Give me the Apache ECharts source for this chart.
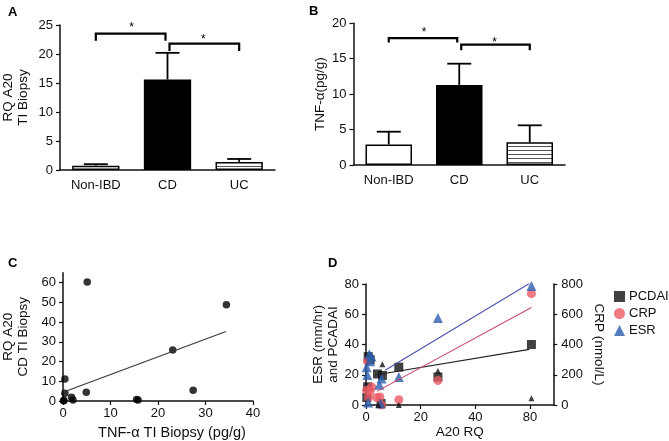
<!DOCTYPE html>
<html>
<head>
<meta charset="utf-8">
<script src="https://cdn.jsdelivr.net/npm/echarts@6/dist/echarts.min.js"></script>
<style>
html,body{margin:0;padding:0;background:#fff;}
#chart{width:669px;height:441px;}
</style>
</head>
<body>
<div id="chart"></div>
<script>
// ---------- DATA ----------
const groups = ['Non-IBD', 'CD', 'UC'];
// Panel A: RQ A20 TI Biopsy
const a20Mean = [0.75, 15.6, 1.4];
const a20Upper = [1.0, 20.2, 1.9];
// Panel B: TNF-α (pg/g)
const tnfMean = [2.9, 11.3, 3.2];
const tnfUpper = [4.7, 14.3, 5.6];
// significance brackets: [fromGroup, toGroup, barLevel, tickEnd, starLevel]
const bracketsA = [[0, 1, 23.5, 22.3, 25.0], [1, 2, 21.8, 20.5, 22.9]];
const bracketsB = [[0, 1, 17.9, 17.3, 19.1], [1, 2, 17.0, 16.2, 17.7]];

// Panel C: TNF-α TI Biopsy vs RQ A20 CD TI Biopsy
const tnfBiopsy = [5.1, 34.4, 23.1, 27.4, 4.9, 0.4, 0.4, 0.2, 1.8, 2.1, 15.5, 15.8, 0.1];
const rqBiopsy  = [60.3, 48.8, 25.8, 5.5, 4.4, 11.2, 3.9, 0.2, 1.9, 0.5, 0.8, 0.5, 0.1];
const fitCX = [0, 34.3];
const fitCY = [4.4, 35.2];
const cYTicks = [0, 10, 20, 30, 40, 50, 60];

// Panel D: A20 RQ vs PCDAI / CRP / ESR
const pcdaiX = [81, 12, 26.3, 4.2, 6, 0.8, 0.3, 0.6, 5.5, 1.5];
const pcdaiY = [40, 25, 18.5, 20.5, 19.5, 32, 5, 12, 1, 30];
const pcdaiOtherX = [6, 26.3, 81, 12, 4.5];
const pcdaiOtherY = [27, 22.5, 4.5, 0, 0];
const crpX = [81, 26.3, 0.5, 12, 5.7, 5.1, 1.5, 0.9, 2.1, 0.2, 3.9];
const crpY = [736, 162, 290, 35, 0, 53, 91, 50, 119, 98, 49];
const esrX = [81, 26.3, 12, 1.2, 2, 0.2, 0.5, 4.9, 5.7, 5.3, 0.8, 1.5];
const esrY = [78.7, 57.5, 18.5, 33.5, 32, 25, 19.8, 13.4, 17.6, 1, 1.7, 29];
const fitPcdaiX = [3.3, 79.5], fitPcdaiY = [19.8, 36.8];
const fitCrpX = [4, 81], fitCrpY = [90, 645];
const fitEsrX = [7, 79.5], fitEsrY = [23, 80.3];
const dTicks = [0, 20, 40, 80];

// ---------- HELPERS ----------
const FONT = 'Liberation Sans, Arial, Helvetica, sans-serif';
// broken x axis in panel D: 0-40 linear, 40-80 compressed by half
function tx(v) { return v <= 40 ? v : 40 + (v - 40) / 2; }
function untx(v) { return v <= 40 ? v : 40 + (v - 40) * 2; }
const zip = (xs, ys, f) => xs.map((x, i) => [f ? f(x) : x, ys[i]]);

function stripe() {
  const c = document.createElement('canvas');
  c.width = 8; c.height = 4;
  const g = c.getContext('2d');
  g.fillStyle = '#fff'; g.fillRect(0, 0, 8, 4);
  g.fillStyle = '#555'; g.fillRect(0, 2, 8, 1);
  return c;
}
const stripePattern = { image: stripe(), repeat: 'repeat' };

const axisLine = { lineStyle: { color: '#111', width: 1.5 } };
const axisTick = { length: 4, lineStyle: { color: '#111', width: 1.2 } };
const lbl = (m) => ({ color: '#111', fontSize: 13, fontFamily: FONT, margin: m });
const nameStyle = (s) => ({ color: '#111', fontSize: s || 13, fontFamily: FONT, lineHeight: 15 });

function barData(means) {
  return means.map((v, i) => ({
    value: v,
    itemStyle: i === 1 ? { color: '#000', borderColor: '#000', borderWidth: 1.5 }
      : i === 2 ? { color: stripePattern, borderColor: '#000', borderWidth: 1.5 }
      : { color: '#fff', borderColor: '#000', borderWidth: 1.5 }
  }));
}
function errSeries(gi, means, uppers) {
  return {
    type: 'custom', xAxisIndex: gi, yAxisIndex: gi, z: 5,
    encode: { x: 0, y: [1, 2] },
    data: means.map((m, i) => [i, m, uppers[i]]),
    renderItem(params, api) {
      const p = api.coord([api.value(0), api.value(1)]);
      const t = api.coord([api.value(0), api.value(2)]);
      return { type: 'group', children: [
        { type: 'line', shape: { x1: p[0], y1: p[1], x2: t[0], y2: t[1] }, style: { stroke: '#000', lineWidth: 1.8 } },
        { type: 'line', shape: { x1: t[0] - 12, y1: t[1], x2: t[0] + 12, y2: t[1] }, style: { stroke: '#000', lineWidth: 1.8 } }
      ]};
    }
  };
}
function bracketSeries(gi, br) {
  return {
    type: 'custom', xAxisIndex: gi, yAxisIndex: gi, z: 6,
    encode: { x: [0, 1], y: [2, 3, 4] },
    data: br,
    renderItem(params, api) {
      const i0 = api.value(0), i1 = api.value(1);
      const a = api.coord([i0, api.value(2)]);
      const b = api.coord([i1, api.value(2)]);
      const a2 = api.coord([i0, api.value(3)]);
      const b2 = api.coord([i1, api.value(3)]);
      const s = api.coord([i0, api.value(4)]);
      const dl = i0 > 0 ? 2 : 0, dr = i1 < 2 ? -2 : 0;
      return { type: 'group', children: [
        { type: 'polyline', shape: { points: [[a2[0] + dl, a2[1]], [a[0] + dl, a[1]], [b[0] + dr, b[1]], [b2[0] + dr, b2[1]]] },
          style: { stroke: '#000', lineWidth: 2.2, fill: null } },
        { type: 'text', x: (a[0] + b[0]) / 2, y: s[1] + 3,
          style: { text: '*', fontSize: 12, fontFamily: FONT, fill: '#000', align: 'center', verticalAlign: 'middle' } }
      ]};
    }
  };
}

const option = {
  backgroundColor: '#fff',
  animation: false,
  title: [
    { text: 'A', left: 3, top: 1, textStyle: { fontSize: 13, fontWeight: 'bold', fontFamily: FONT, color: '#000' } },
    { text: 'B', left: 304, top: 0, textStyle: { fontSize: 13, fontWeight: 'bold', fontFamily: FONT, color: '#000' } },
    { text: 'C', left: 3, top: 252, textStyle: { fontSize: 13, fontWeight: 'bold', fontFamily: FONT, color: '#000' } },
    { text: 'D', left: 323, top: 252, textStyle: { fontSize: 13, fontWeight: 'bold', fontFamily: FONT, color: '#000' } }
  ],
  legend: {
    data: [
      { name: 'PCDAI', icon: 'rect' },
      { name: 'CRP', icon: 'circle' },
      { name: 'ESR', icon: 'triangle' }
    ],
    orient: 'vertical', left: 609, top: 285, itemWidth: 11, itemHeight: 11, itemGap: 4,
    textStyle: { fontSize: 13, fontFamily: FONT, color: '#111', padding: [0, 0, 0, -1] }
  },
  grid: [
    { left: 57, top: 25, width: 218, height: 145 },
    { left: 353.5, top: 23.3, width: 211.5, height: 141.7 },
    { left: 60.7, top: 272.7, width: 192.3, height: 128.3 },
    { left: 366, top: 284, width: 187.3, height: 125.3 }
  ],
  xAxis: [
    { gridIndex: 0, type: 'category', data: groups, axisLine, axisTick: Object.assign({ alignWithLabel: true }, axisTick), axisLabel: lbl(9) },
    { gridIndex: 1, type: 'category', data: groups, axisLine, axisTick: Object.assign({ alignWithLabel: true }, axisTick), axisLabel: lbl(9) },
    { gridIndex: 2, type: 'value', min: 0, max: 40, interval: 10, splitLine: { show: false }, axisLine, axisTick, axisLabel: lbl(6),
      name: 'TNF-α TI Biopsy (pg/g)', nameLocation: 'middle', nameGap: 24, nameTextStyle: Object.assign(nameStyle(14.5), { padding: [0, 0, 0, 28] }) },
    { gridIndex: 3, type: 'value', min: 0, max: 68.5, interval: 20, splitLine: { show: false }, axisLine,
      axisTick: Object.assign({ customValues: dTicks.map(tx) }, axisTick),
      axisLabel: Object.assign({ customValues: dTicks.map(tx), formatter: (v) => String(Math.round(untx(v))) }, lbl(6)),
      name: 'A20 RQ', nameLocation: 'middle', nameGap: 20, nameTextStyle: nameStyle(13.5) }
  ],
  yAxis: [
    { gridIndex: 0, type: 'value', min: 0, max: 25, interval: 5, splitLine: { show: false }, axisLine: Object.assign({ show: true }, axisLine), axisTick: Object.assign({ show: true }, axisTick), axisLabel: lbl(7),
      name: 'RQ A20\nTI Biopsy', nameLocation: 'middle', nameGap: 29, nameTextStyle: nameStyle(13.5) },
    { gridIndex: 1, type: 'value', min: 0, max: 20, interval: 5, splitLine: { show: false }, axisLine: Object.assign({ show: true }, axisLine), axisTick: Object.assign({ show: true }, axisTick), axisLabel: lbl(7),
      name: 'TNF-α(pg/g)', nameLocation: 'middle', nameGap: 26, nameTextStyle: nameStyle(13.5) },
    { gridIndex: 2, type: 'value', min: 0, max: 65, interval: 10, splitLine: { show: false }, axisLine: Object.assign({ show: true }, axisLine),
      axisTick: Object.assign({ show: true, customValues: cYTicks }, axisTick),
      axisLabel: Object.assign({ customValues: cYTicks }, lbl(7)),
      name: 'RQ A20\nCD TI Biopsy', nameLocation: 'middle', nameGap: 32, nameTextStyle: nameStyle(13.5) },
    { gridIndex: 3, type: 'value', min: 0, max: 80, interval: 20, splitLine: { show: false }, axisLine: Object.assign({ show: true }, axisLine), axisTick: Object.assign({ show: true }, axisTick), axisLabel: lbl(7),
      name: 'ESR (mm/hr)\nand PCADAI', nameLocation: 'middle', nameGap: 24, nameTextStyle: nameStyle(13.5) },
    { gridIndex: 3, type: 'value', position: 'right', min: 0, max: 800, interval: 200, splitLine: { show: false }, axisLine: Object.assign({ show: true }, axisLine), axisTick: Object.assign({ show: true }, axisTick), axisLabel: lbl(8),
      name: 'CRP (nmol/L)', nameLocation: 'middle', nameGap: 38, nameRotate: -90, nameTextStyle: nameStyle(13.5) }
  ],
  series: [
    // Panel A
    { type: 'bar', xAxisIndex: 0, yAxisIndex: 0, barWidth: '66%', data: barData(a20Mean) },
    errSeries(0, a20Mean, a20Upper),
    bracketSeries(0, bracketsA),
    // Panel B
    { type: 'bar', xAxisIndex: 1, yAxisIndex: 1, barWidth: '66%', data: barData(tnfMean) },
    errSeries(1, tnfMean, tnfUpper),
    bracketSeries(1, bracketsB),
    // Panel C
    { type: 'scatter', xAxisIndex: 2, yAxisIndex: 2, symbol: 'circle', symbolSize: 7.5, itemStyle: { color: '#000' },
      data: zip(tnfBiopsy, rqBiopsy) },
    { type: 'line', xAxisIndex: 2, yAxisIndex: 2, symbol: 'none', lineStyle: { color: '#3a3342', width: 1.1 },
      data: zip(fitCX, fitCY) },
    // Panel D
    { name: 'PCDAI', type: 'scatter', xAxisIndex: 3, yAxisIndex: 3, symbol: 'rect', symbolSize: 9, itemStyle: { color: '#111' },
      data: zip(pcdaiX, pcdaiY, tx) },
    { name: 'CRP', type: 'scatter', xAxisIndex: 3, yAxisIndex: 4, symbol: 'circle', symbolSize: 9, itemStyle: { color: '#ea5a64' },
      data: zip(crpX, crpY, tx) },
    { name: 'ESR', type: 'scatter', xAxisIndex: 3, yAxisIndex: 3, symbol: 'triangle', symbolSize: 10, itemStyle: { color: '#2c5ead' },
      data: zip(esrX, esrY, tx) },
    { name: 'PCDAI-2', type: 'scatter', xAxisIndex: 3, yAxisIndex: 3, symbol: 'triangle', symbolSize: 6, itemStyle: { color: '#111' },
      data: zip(pcdaiOtherX, pcdaiOtherY, tx) },
    { type: 'line', xAxisIndex: 3, yAxisIndex: 3, symbol: 'none', lineStyle: { color: '#222', width: 1.1 },
      data: zip(fitPcdaiX, fitPcdaiY, tx) },
    { type: 'line', xAxisIndex: 3, yAxisIndex: 4, symbol: 'none', lineStyle: { color: '#c84a68', width: 1.1 },
      data: zip(fitCrpX, fitCrpY, tx) },
    { type: 'line', xAxisIndex: 3, yAxisIndex: 3, symbol: 'none', lineStyle: { color: '#4a52a8', width: 1.1 },
      data: zip(fitEsrX, fitEsrY, tx) }
  ]
};
const chart = echarts.init(document.getElementById('chart'), null, { renderer: 'canvas' });
chart.setOption(option);
</script>
</body>
</html>
